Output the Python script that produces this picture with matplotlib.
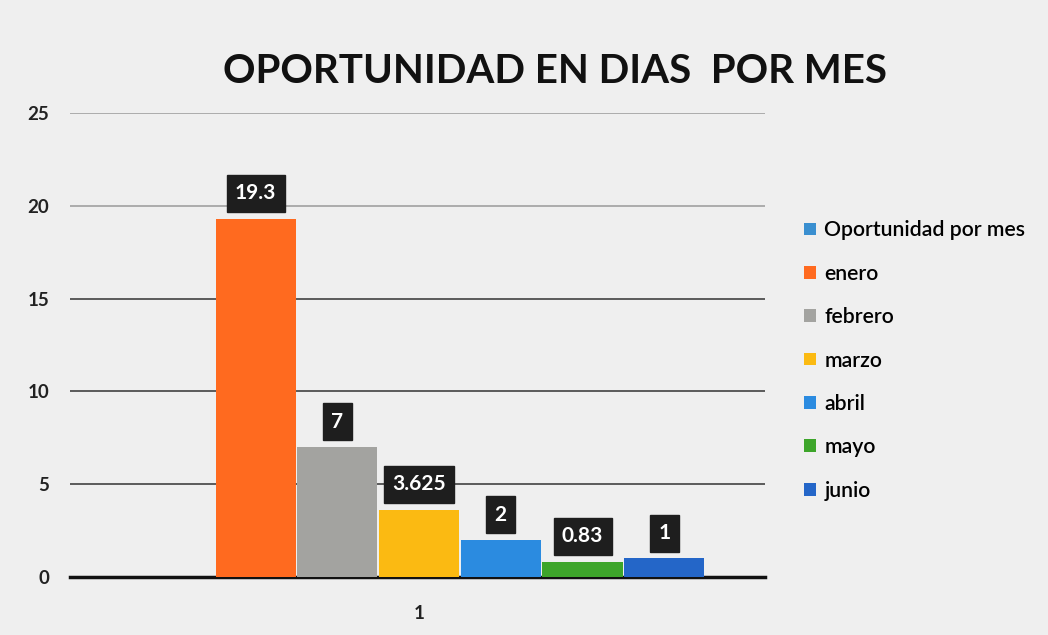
import matplotlib
matplotlib.use("Agg")
import matplotlib.pyplot as plt
from matplotlib.patches import Patch
import numpy as np

title = "OPORTUNIDAD EN DIAS  POR MES"
series = ["Oportunidad por mes", "enero", "febrero", "marzo", "abril", "mayo", "junio"]
values = [0, 19.3, 7, 3.625, 2, 0.83, 1]
labels = [None, "19.3", "7", "3.625", "2", "0.83", "1"]
colors = ["#3A8FD0", "#FF6A1F", "#A3A3A0", "#FBBA12", "#2B8BE0", "#3DA52A", "#2466C8"]
category = ["1"]
yticks = [0, 5, 10, 15, 20, 25]

plt.rcParams['font.family'] = ['Lato', 'DejaVu Sans']

fig = plt.figure(figsize=(10.48, 6.35), dpi=100)
fig.patch.set_facecolor("#EFEFEF")
ax = fig.add_axes([0.0668, 0.0913, 0.663, 0.731])
ax.set_facecolor("#EFEFEF")

n = len(series)
pos = np.arange(n) - (n - 1) / 2
for i, (s, v, c) in enumerate(zip(series, values, colors)):
    ax.bar(pos[i], v, width=0.98, color=c, zorder=3, label=s)
    if labels[i] is not None:
        ax.annotate(labels[i], (pos[i], v), xytext=(0, 11), textcoords="offset points",
                    ha="center", va="bottom", color="white", fontsize=15, fontweight="bold",
                    bbox=dict(boxstyle="square,pad=0.4", fc="#1E1E1E", ec="#1E1E1E"), zorder=5)

ax.set_xlim(-4.27, 4.23)
ax.set_ylim(0, 25)
ax.set_yticks(yticks)
ax.set_yticklabels([str(t) for t in yticks], fontsize=13.5, fontweight="bold", color="#222222")
ax.set_xticks([0])
ax.set_xticklabels(category, fontsize=13.5, fontweight="bold", color="#222222")
ax.tick_params(axis="y", length=0, pad=15)
ax.tick_params(axis="x", length=0, pad=20)
for t in yticks[1:]:
    col = "#333333" if t <= 15 else "#9A9A9A"
    ax.axhline(t, color=col, lw=1.1, zorder=1)
for sp in ["top", "right", "left"]:
    ax.spines[sp].set_visible(False)
ax.spines["bottom"].set_linewidth(2.5)
ax.spines["bottom"].set_color("#111111")

fig.text(0.53, 0.887, title, ha="center", va="center", fontsize=29, fontweight="bold", color="#111111")

handles = [Patch(facecolor=c, edgecolor="none") for c in colors]
fig.legend(handles, series, loc="upper left", bbox_to_anchor=(0.749, 0.683), frameon=False,
           handlelength=0.55, handleheight=0.55, handletextpad=0.4,
           labelspacing=1.1, prop=dict(family="Lato", weight="semibold", size=15.3))

fig.savefig("out.png", dpi=100, facecolor=fig.get_facecolor())
